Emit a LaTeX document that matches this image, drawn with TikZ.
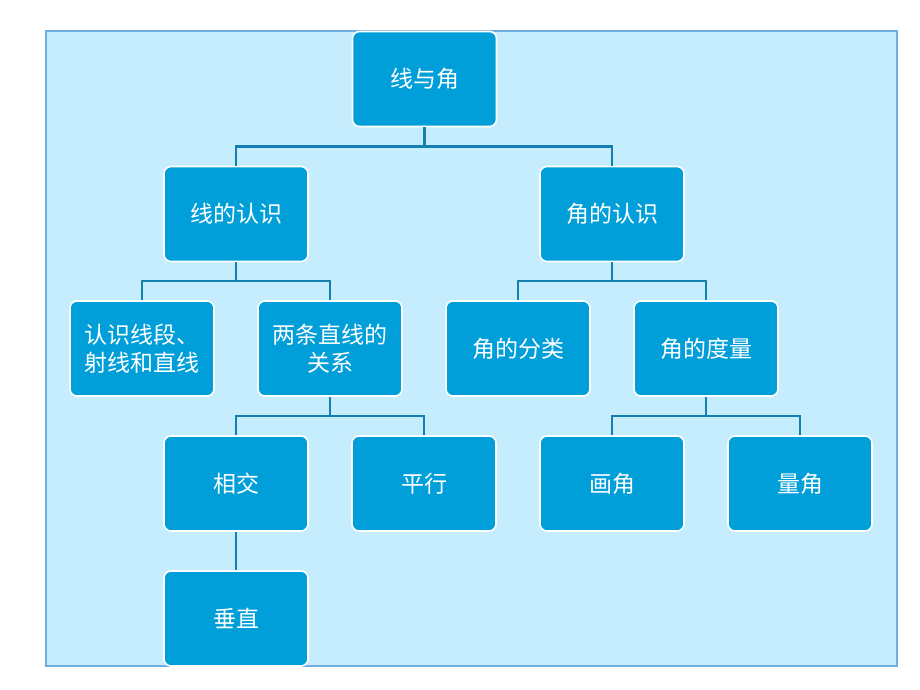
\documentclass[tikz,border=0pt]{standalone}
\usepackage{fontspec}
\newfontfamily\cjk{Noto Sans CJK SC}
\definecolor{bgblue}{HTML}{C5EDFD}
\definecolor{edgeblue}{HTML}{6FAEE0}
\definecolor{boxblue}{HTML}{009FD9}
\definecolor{linkblue}{HTML}{1380B0}

\begin{document}
\begin{tikzpicture}[x=1pt,y=-1pt]
\tikzstyle{box}=[draw=white, line width=1.6pt, fill=boxblue, rounded corners=7pt, minimum width=144pt, minimum height=95pt, inner sep=0pt, align=center, text=white, font=\cjk\fontsize{23}{28}\selectfont]
\tikzstyle{link}=[draw=linkblue, line width=2.4pt]
\path [use as bounding box] (0,0) rectangle (920,690);
\draw [fill=bgblue, draw=edgeblue, line width=1.2pt] (46,31) rectangle (897,666);
% tree boxes
\node [box] (xianyujiao) at (424.5,79) {线与角};
\node [box] (xiande) at (236,214) {线的认识};
\node [box] (jiaode) at (612,214) {角的认识};
\node [box] (xianduan) at (142,348.5) {认识线段、\\射线和直线};
\node [box] (liangtiao) at (330,348.5) {两条直线的\\关系};
\node [box] (fenlei) at (518,348.5) {角的分类};
\node [box] (duliang) at (706,348.5) {角的度量};
\node [box] (xiangjiao) at (236,483.5) {相交};
\node [box] (pingxing) at (424,483.5) {平行};
\node [box] (huajiao) at (612,483.5) {画角};
\node [box] (liangjiao) at (800,483.5) {量角};
\node [box] (chuizhi) at (236,618.5) {垂直};
% junctions
\coordinate (j1) at (424.5,146.5);
\coordinate (j2) at (236,281);
\coordinate (j3) at (612,281);
\coordinate (j4) at (330,416);
\coordinate (j5) at (706,416);
% connectors
\draw [link] (xianyujiao.south) -- (j1);
\draw [link] (xiande.north) |- (j1) -| (jiaode.north);
\draw [link] (xiande.south) -- (j2);
\draw [link] (xianduan.north) |- (j2) -| (liangtiao.north);
\draw [link] (jiaode.south) -- (j3);
\draw [link] (fenlei.north) |- (j3) -| (duliang.north);
\draw [link] (liangtiao.south) -- (j4);
\draw [link] (xiangjiao.north) |- (j4) -| (pingxing.north);
\draw [link] (duliang.south) -- (j5);
\draw [link] (huajiao.north) |- (j5) -| (liangjiao.north);
\draw [link] (xiangjiao.south) -- (chuizhi.north);
\end{tikzpicture}
\end{document}
